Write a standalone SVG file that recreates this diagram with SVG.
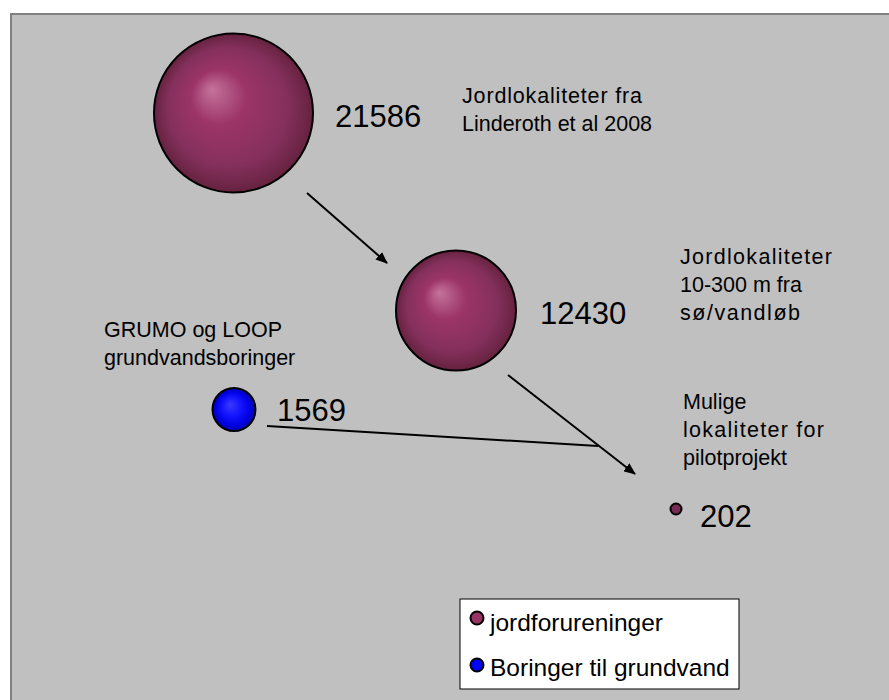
<svg xmlns="http://www.w3.org/2000/svg" width="889" height="700" viewBox="0 0 889 700">
<defs>
<radialGradient id="gPurple" cx="0.5" cy="0.5" r="0.5" fx="0.36" fy="0.35">
<stop offset="0" stop-color="#c4749c"/>
<stop offset="0.35" stop-color="#9c3468"/>
<stop offset="0.75" stop-color="#84305c"/>
<stop offset="1" stop-color="#66223f"/>
</radialGradient>
<radialGradient id="gBlue" cx="0.5" cy="0.5" r="0.5" fx="0.4" fy="0.38">
<stop offset="0" stop-color="#3a3aff"/>
<stop offset="0.45" stop-color="#1414ff"/>
<stop offset="0.8" stop-color="#0000e0"/>
<stop offset="1" stop-color="#0000b0"/>
</radialGradient>
<marker id="arr" viewBox="0 0 12 10" refX="11" refY="5" markerWidth="12" markerHeight="10" markerUnits="userSpaceOnUse" orient="auto">
<path d="M0,0 L12,5 L0,10 Z" fill="#000"/>
</marker>
</defs>
<style>
.t{font-family:"Liberation Sans",Arial,sans-serif;font-size:21.5px;fill:#000}
.n{font-family:"Liberation Sans",Arial,sans-serif;font-size:31px;fill:#000}
.lg{font-family:"Liberation Sans",Arial,sans-serif;font-size:24.5px;fill:#000}
.sp{stroke:#000;stroke-width:2}
.c{stroke:#000;stroke-width:2;fill:none}
</style>
<rect x="0" y="0" width="889" height="700" fill="#fff"/>
<rect x="10" y="13" width="879" height="687" fill="#c0c0c0"/>
<path d="M11,700 V14 H889" fill="none" stroke="#808080" stroke-width="2"/>

<g id="connectors">
<line class="c" x1="307" y1="193" x2="387" y2="263" marker-end="url(#arr)"/>
<line class="c" x1="508" y1="375" x2="635" y2="474" marker-end="url(#arr)"/>
<line class="c" x1="267" y1="426" x2="598" y2="446" stroke-width="1.5"/>
</g>

<g id="node-21586">
<circle class="sp" cx="233.5" cy="113" r="79.5" fill="url(#gPurple)"/>
<text class="n" x="335" y="127">21586</text>
<text class="t" x="462" y="103" textLength="180" lengthAdjust="spacing">Jordlokaliteter fra</text>
<text class="t" x="462" y="131">Linderoth et al 2008</text>
</g>

<g id="node-12430">
<circle class="sp" cx="456" cy="310.5" r="60" fill="url(#gPurple)"/>
<text class="n" x="540" y="324">12430</text>
<text class="t" x="680" y="264" textLength="152" lengthAdjust="spacing">Jordlokaliteter</text>
<text class="t" x="680" y="292">10-300 m fra</text>
<text class="t" x="680" y="320" textLength="120" lengthAdjust="spacing">sø/vandløb</text>
</g>

<g id="node-1569">
<circle class="sp" cx="234" cy="409.5" r="21.5" fill="url(#gBlue)"/>
<text class="n" x="277" y="421">1569</text>
<text class="t" x="104" y="337">GRUMO og LOOP</text>
<text class="t" x="104" y="365">grundvandsboringer</text>
</g>

<g id="node-202">
<circle class="sp" cx="676" cy="509" r="5.5" fill="#772a52"/>
<text class="n" x="700" y="527">202</text>
<text class="t" x="683" y="409">Mulige</text>
<text class="t" x="683" y="437" textLength="141" lengthAdjust="spacing">lokaliteter for</text>
<text class="t" x="683" y="465">pilotprojekt</text>
</g>

<g id="legend">
<rect x="460" y="599" width="279" height="90" fill="#fff" stroke="#000" stroke-width="1"/>
<circle cx="477" cy="618" r="6.5" fill="#993366" stroke="#000" stroke-width="2"/>
<text class="lg" x="490" y="631">jordforureninger</text>
<circle cx="477" cy="665" r="6.5" fill="#0000ff" stroke="#000" stroke-width="2"/>
<text class="lg" x="490" y="676">Boringer til grundvand</text>
</g>
</svg>
